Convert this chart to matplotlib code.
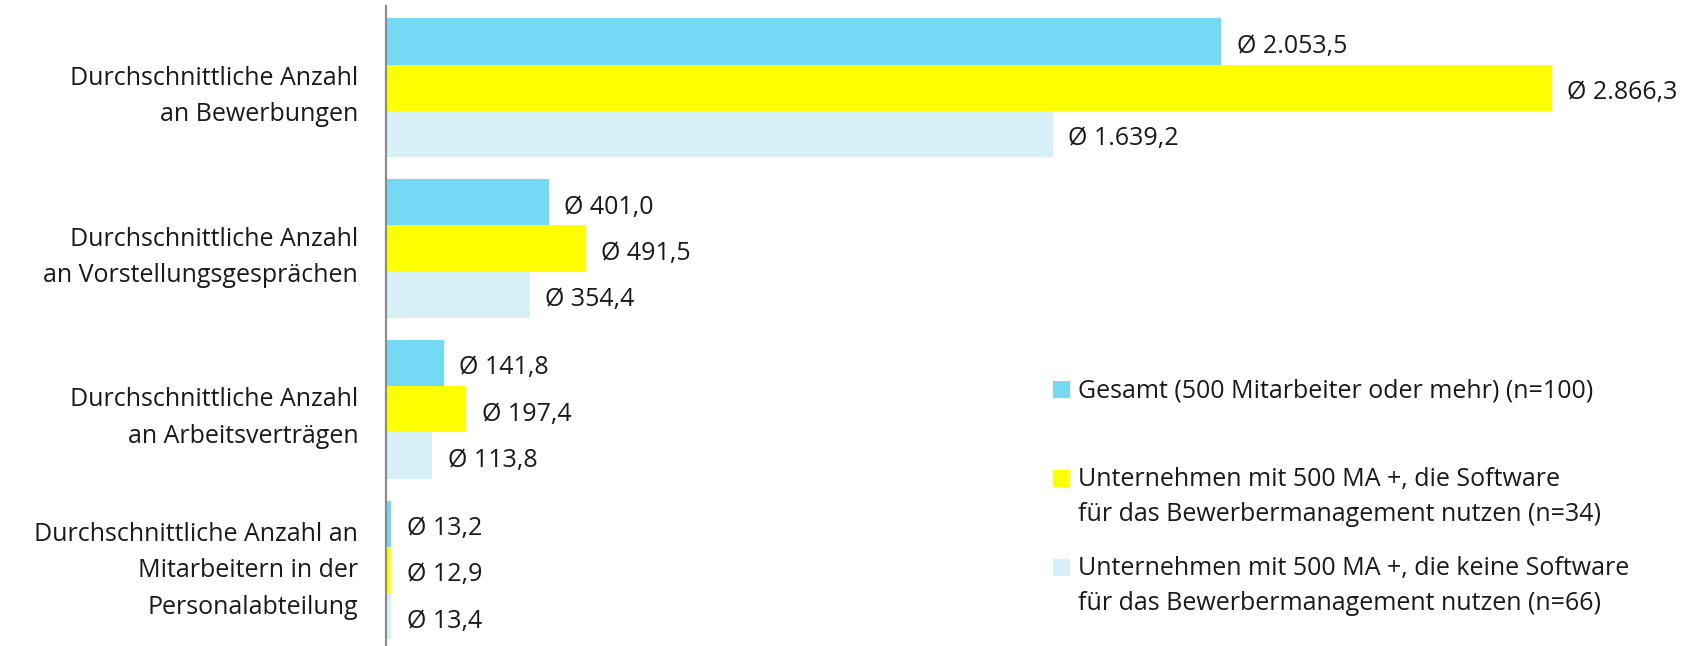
import matplotlib
matplotlib.use("Agg")
import matplotlib.pyplot as plt
from matplotlib.patches import Rectangle
from matplotlib.transforms import ScaledTranslation

plt.rcParams['font.family'] = ['Open Sans', 'DejaVu Sans']

categories = [
    "Durchschnittliche Anzahl\nan Bewerbungen",
    "Durchschnittliche Anzahl\nan Vorstellungsgesprächen",
    "Durchschnittliche Anzahl\nan Arbeitsverträgen",
    "Durchschnittliche Anzahl an\nMitarbeitern in der\nPersonalabteilung",
]
gesamt = [2053.5, 401.0, 141.8, 13.2]
mit_software = [2866.3, 491.5, 197.4, 12.9]
ohne_software = [1639.2, 354.4, 113.8, 13.4]

series_labels = [
    "Gesamt (500 Mitarbeiter oder mehr) (n=100)",
    "Unternehmen mit 500 MA +, die Software\nfür das Bewerbermanagement nutzen (n=34)",
    "Unternehmen mit 500 MA +, die keine Software\nfür das Bewerbermanagement nutzen (n=66)",
]
colors = ["#74D9F5", "#FFFF00", "#D7EFF6"]

W, H = 1702, 646
FS = 18
TXT = "#1a1a1a"
fig = plt.figure(figsize=(W / 100, H / 100), dpi=100)
ax_left, ax_top = 386, 6
ax = fig.add_axes([ax_left / W, 0, (W - ax_left) / W, (H - ax_top) / H])

bar_h = 0.2876
offsets = [-bar_h, 0.0, bar_h]
series = [gesamt, mit_software, ohne_software]
ypos = list(range(len(categories)))


def de_fmt(v):
    s = f"{v:,.1f}"
    return s.replace(",", "X").replace(".", ",").replace("X", ".")


for vals, off, col in zip(series, offsets, colors):
    ys = [y + off for y in ypos]
    ax.barh(ys, vals, height=bar_h, color=col, edgecolor="none", zorder=2)
    for v, y in zip(vals, ys):
        ax.annotate(f"Ø {de_fmt(v)}", xy=(v, y), xytext=(11, -3.5),
                    textcoords="offset points", va="center", ha="left",
                    fontsize=FS, color=TXT)

ax.set_xlim(0, (W - ax_left) / 0.4068)
ax.set_ylim(3.472, -0.509)
ax.set_yticks(ypos)
ax.set_yticklabels(categories, fontsize=FS, color=TXT,
                   multialignment="right", linespacing=1.6)
ax.tick_params(axis="y", length=0, pad=20)
# the three-line label sits a little higher than its group centre
last = ax.get_yticklabels()[-1]
last.set_transform(last.get_transform() + ScaledTranslation(0, 0.08, fig.dpi_scale_trans))
ax.set_xticks([])
for side in ["top", "right", "bottom"]:
    ax.spines[side].set_visible(False)
ax.spines["left"].set_color("#8c8c8c")
ax.spines["left"].set_linewidth(1.6)
ax.spines["left"].set_zorder(3)

# Legend drawn as swatches and text in figure pixel space
leg_sq_x, leg_sq_size, leg_text_x = 1053, 17, 1078
leg_rows = [389, 478, 567]
for lab, col, yc in zip(series_labels, colors, leg_rows):
    fig.patches.append(Rectangle(((leg_sq_x) / W, 1 - (yc + leg_sq_size / 2) / H),
                                 leg_sq_size / W, leg_sq_size / H,
                                 transform=fig.transFigure, facecolor=col,
                                 edgecolor="none"))
    fig.text(leg_text_x / W, 1 - (yc - 11) / H, lab, ha="left", va="top",
             fontsize=FS, color=TXT, linespacing=1.55)

fig.savefig("out.png", dpi=100)
